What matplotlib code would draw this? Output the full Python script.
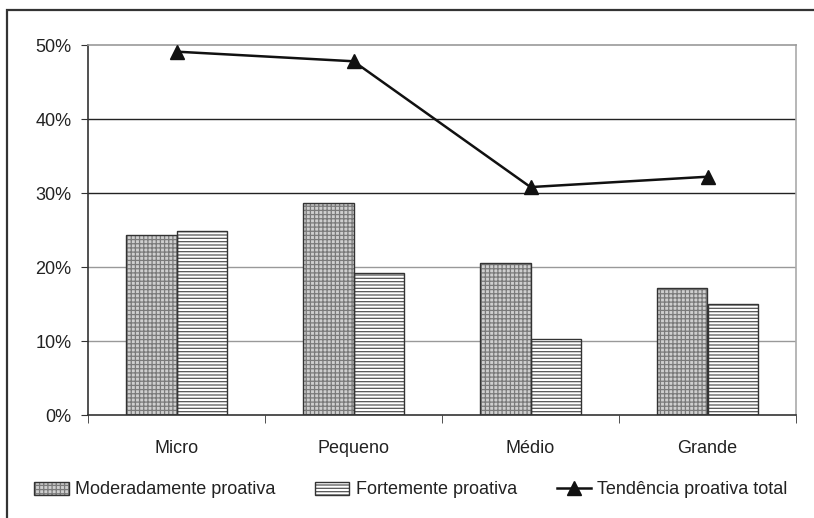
import numpy as np
import matplotlib.pyplot as plt
from matplotlib.patches import Rectangle

categorias = ['Micro', 'Pequeno', 'Médio', 'Grande']
moderada = [24.3, 28.6, 20.5, 17.2]
fortemente = [24.8, 19.2, 10.3, 15.0]
total = [49.1, 47.8, 30.8, 32.2]
yticks = [0, 10, 20, 30, 40, 50]
ylabels = ['0%', '10%', '20%', '30%', '40%', '50%']

plt.rcParams['font.family'] = ['Liberation Sans', 'DejaVu Sans']
plt.rcParams['hatch.linewidth'] = 0.9
txt = '#222222'
fs = 13

fig = plt.figure(figsize=(8.14, 5.18), dpi=100)
ax = fig.add_axes([88 / 814, 1 - 415 / 518, (796 - 88) / 814, (415 - 45) / 518])

x = np.arange(len(categorias))
w = 0.288

# grid lines (30/40 are darker in the scan)
for v in yticks[1:-1]:
    ax.axhline(v, color='#222222' if v in (30, 40) else '#999999', lw=1, zorder=0)

b1 = ax.bar(x - w / 2, moderada, w, color='#cfcfcf', edgecolor='#7a7a7a', hatch='++++', lw=0, zorder=2)
o1 = ax.bar(x - w / 2, moderada, w, fill=False, edgecolor='#333333', lw=1, zorder=3)
b2 = ax.bar(x + w / 2, fortemente, w, color='white', edgecolor='#555555', hatch='-----', lw=0, zorder=2)
o2 = ax.bar(x + w / 2, fortemente, w, fill=False, edgecolor='#333333', lw=1, zorder=3)
ln, = ax.plot(x, total, color='#111111', lw=1.8, marker='^', markersize=10, zorder=4)

ax.set_xlim(-0.5, 3.5)
ax.set_ylim(0, 50)
ax.set_yticks(yticks)
ax.set_yticklabels(ylabels, fontsize=fs, color=txt)
ax.set_xticks(x)
ax.set_xticklabels(categorias, fontsize=fs, color=txt)
ax.set_xticks(np.arange(-0.5, 4, 1), minor=True)
ax.tick_params(axis='x', which='major', length=0, pad=18)
ax.tick_params(axis='x', which='minor', length=6, color='#333333', direction='out')
ax.tick_params(axis='y', length=5, color='#333333', pad=7)

ax.spines['left'].set_color('#333333')
ax.spines['bottom'].set_color('#333333')
ax.spines['top'].set_color('#999999')
ax.spines['right'].set_color('#aaaaaa')
for s in ax.spines.values():
    s.set_linewidth(1.2)

fig.legend([(b1, o1), (b2, o2), ln],
           ['Moderadamente proativa', 'Fortemente proativa', 'Tendência proativa total'],
           loc='center', bbox_to_anchor=(411 / 814, 1 - 490 / 518), ncol=3, frameon=False,
           fontsize=fs, handlelength=1.9, handleheight=0.7, columnspacing=2.2,
           handletextpad=0.35, labelcolor=txt)

# outer frame
fig.patches.append(Rectangle((7 / 814, -0.1), 1.1, 1 - 10 / 518 + 0.1, transform=fig.transFigure,
                             fill=False, edgecolor='#333333', lw=1.6, clip_on=False))

fig.savefig('out.png', dpi=100)
